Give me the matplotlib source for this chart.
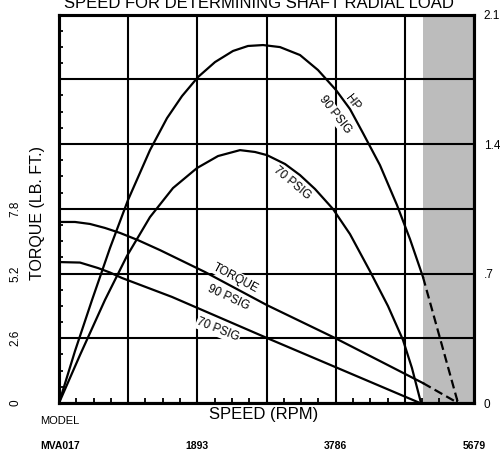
import numpy as np
import matplotlib
matplotlib.use('Agg')
import matplotlib.pyplot as plt
from matplotlib.ticker import MultipleLocator
import matplotlib.transforms as mtransforms

plt.rcParams['font.family'] = ['Liberation Sans', 'DejaVu Sans']

# Axis ranges / ticks
rpm_max = 5679
rpm_labels = [1893, 3786, 5679]
torque_ticks = [0, 2.6, 5.2, 7.8]
hp_ticks = [0, 0.7, 1.4, 2.1]
shade_start = 4981

# HP curves (rpm, hp)
hp90_rpm = [0, 219, 452, 698, 944, 1245, 1478, 1683, 1902, 2135, 2381, 2586, 2792,
            3024, 3298, 3544, 3790, 3982, 4160, 4392, 4625, 4803, 4981]
hp90_val = [0, 0.281, 0.557, 0.838, 1.097, 1.367, 1.540, 1.659, 1.762, 1.843, 1.903,
            1.930, 1.935, 1.924, 1.881, 1.800, 1.692, 1.589, 1.459, 1.286, 1.070,
            0.886, 0.681]
hp90_dash_rpm = [4981, 5460]
hp90_dash_val = [0.681, 0]

hp70_rpm = [0, 287, 629, 930, 1245, 1560, 1888, 2176, 2477, 2682, 2846, 3093, 3298,
            3503, 3749, 3982, 4255, 4502, 4707, 4830, 4954]
hp70_val = [0, 0.259, 0.557, 0.795, 1.005, 1.162, 1.270, 1.335, 1.367, 1.357, 1.340,
            1.292, 1.232, 1.157, 1.049, 0.913, 0.713, 0.524, 0.341, 0.189, 0]

# Torque curves (rpm, lb.ft)
tq90_rpm = [0, 219, 424, 629, 835, 1081, 1382, 1998, 2846, 3777, 4981]
tq90_val = [7.27, 7.27, 7.19, 7.03, 6.83, 6.54, 6.14, 5.26, 3.93, 2.61, 0.80]
tq90_dash_rpm = [4981, 5460]
tq90_dash_val = [0.80, 0]

tq70_rpm = [0, 287, 534, 698, 862, 1546, 2846, 4940]
tq70_val = [5.66, 5.64, 5.42, 5.24, 5.02, 4.26, 2.61, 0]

fig = plt.figure(figsize=(5.0, 4.54), dpi=100)
ax = fig.add_axes([0.118, 0.1123, 0.830, 0.8557])
ax2 = ax.twinx()

# shaded region
ax.axvspan(shade_start, rpm_max, facecolor='#bcbcbc', edgecolor='none', zorder=0.2)

ax.set_xlim(0, rpm_max)
ax.set_ylim(0, 15.6)
ax2.set_ylim(0, 2.1)

# grid
ax.set_xticks(np.arange(0, rpm_max + 1, rpm_max / 6))
ax.set_xticklabels([])
ax.set_yticks(np.arange(0, 15.61, 2.6))
ax.set_yticklabels(['0', '2.6', '5.2', '7.8', '', '', ''], rotation=90,
                   va='center', ha='center', fontsize=8.5)
ax.xaxis.set_minor_locator(MultipleLocator(rpm_max / 24))
ax.yaxis.set_minor_locator(MultipleLocator(0.65))
ax.grid(True, which='major', color='black', linewidth=1.5)
ax.set_axisbelow(True)
ax.tick_params(which='major', length=0)
ax.tick_params(axis='y', which='major', pad=31.5)
ax.tick_params(which='minor', direction='in', length=3.5, width=1.3, color='black')
ax.tick_params(axis='y', which='minor', length=3)

ax2.set_yticks(hp_ticks)
ax2.set_yticklabels(['0', '.7', '1.4', '2.1'], fontsize=8.5)
ax2.tick_params(length=0, pad=7)

for a in (ax, ax2):
    for s in a.spines.values():
        s.set_linewidth(2.2)

# curves
lw = 1.6
ax.plot(tq90_rpm, tq90_val, color='black', lw=lw, zorder=3)
ax.plot(tq90_dash_rpm, tq90_dash_val, color='black', lw=lw, dashes=(4, 2), zorder=3)
ax.plot(tq70_rpm, tq70_val, color='black', lw=lw, zorder=3)
ax2.plot(hp90_rpm, hp90_val, color='black', lw=lw, zorder=3)
ax2.plot(hp90_dash_rpm, hp90_dash_val, color='black', lw=lw, dashes=(4, 2), zorder=3)
ax2.plot(hp70_rpm, hp70_val, color='black', lw=lw, zorder=3)

# curve labels (white box breaks the grid lines like the original)
box = dict(facecolor='white', edgecolor='none', pad=0.6)
lab = dict(fontsize=8.5, ha='center', va='center', bbox=box, zorder=2,
           rotation_mode='anchor')
ax.text(4009, 12.05, 'HP', rotation=-52, **lab)
ax.text(3777, 11.56, '90 PSIG', rotation=-52, **lab)
ax.text(3188, 8.83, '70 PSIG', rotation=-40, **lab)
ax.text(2422, 5.02, 'TORQUE', rotation=-28, **lab)
ax.text(2313, 4.22, '90 PSIG', rotation=-25, **lab)
ax.text(2176, 2.93, '70 PSIG', rotation=-22, **lab)

# axis labels
ax.set_ylabel('TORQUE (LB. FT.)', fontsize=11.5)
ax.yaxis.set_label_coords(-0.034, 0.49)
fig.text(0.528, 1 - 414 / 454, 'SPEED (RPM)', fontsize=12, ha='center', va='center')
fig.text(0.12, 1 - 421 / 454, 'MODEL', fontsize=8, ha='center', va='center')

trans = mtransforms.blended_transform_factory(ax.transData, fig.transFigure)
yb = 1 - 446 / 454
fig.text(0.12, yb, 'MVA017', fontsize=7.5, fontweight='bold', ha='center', va='center')
for r in rpm_labels:
    ax.text(r, yb, str(r), transform=trans, fontsize=7.5, fontweight='bold',
            ha='center', va='center', clip_on=False)

# title, cut at the top as in the original
fig.text(0.517, 1 - 7.5 / 454, 'SPEED FOR DETERMINING SHAFT RADIAL LOAD',
         fontsize=12, ha='center', va='baseline')

plt.savefig('out.png', dpi=100)
plt.close()
